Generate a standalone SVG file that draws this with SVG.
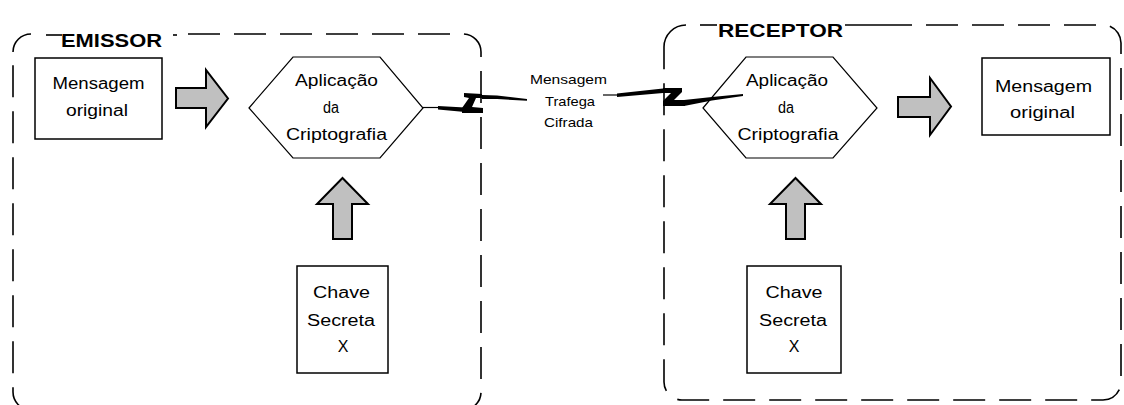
<svg xmlns="http://www.w3.org/2000/svg" width="1124" height="405" viewBox="0 0 1124 405">
  <style>
    .frame { fill: none; stroke: #000; stroke-width: 1.6; stroke-dasharray: 32 14; }
    .solid { fill: none; stroke: #000; stroke-width: 1.6; }
    .box { fill: #fff; stroke: #000; stroke-width: 1.5; }
    .hex { fill: #fff; stroke: #000; stroke-width: 1.2; }
    .block { fill: #c0c0c0; stroke: #000; stroke-width: 2; stroke-linejoin: miter; }
    .bolt { fill: #000; stroke: none; }
    .wire { stroke: #000; stroke-width: 1.2; fill: none; }
    .lbl { font-family: "Liberation Sans", Arial, sans-serif; font-size: 16px; fill: #000; text-anchor: middle; }
    .small { font-family: "Liberation Sans", Arial, sans-serif; font-size: 13px; fill: #000; text-anchor: middle; }
    .title { font-family: "Liberation Sans", Arial, sans-serif; font-size: 19px; font-weight: bold; fill: #000; }
  </style>

  <!-- Sender boundary (bottom edge runs past the canvas) -->
  <g id="emissor">
    <path class="frame" d="M188 34 H463 A18 18 0 0 1 481 52 V392 A18 18 0 0 1 463 410 H31 A18 18 0 0 1 13 392 V52"/>
    <path class="solid" d="M13 52 A18 18 0 0 1 31 34"/>
    <line class="solid" x1="46" y1="35" x2="62" y2="35"/>
    <line class="solid" x1="173" y1="35" x2="177" y2="35"/>
    <text class="title" x="61" y="47" textLength="101" lengthAdjust="spacingAndGlyphs">EMISSOR</text>
  </g>

  <!-- Receiver boundary -->
  <g id="receptor">
    <path class="frame" d="M880 25 H1103 A18 18 0 0 1 1121 43 V382 A18 18 0 0 1 1103 400 H682 A18 18 0 0 1 664 382 V47"/>
    <path class="solid" d="M664 47 A22 22 0 0 1 686 25"/>
    <line class="solid" x1="700" y1="25" x2="717" y2="25"/>
    <line class="solid" x1="845" y1="25" x2="880" y2="25"/>
    <text class="title" x="718" y="37" textLength="125" lengthAdjust="spacingAndGlyphs">RECEPTOR</text>
  </g>

  <!-- Sender nodes -->
  <g id="msg-original-emissor">
    <rect class="box" x="35" y="58" width="127" height="81"/>
    <text class="lbl" x="98.5" y="89" textLength="92" lengthAdjust="spacingAndGlyphs">Mensagem</text>
    <text class="lbl" x="97" y="116" textLength="62" lengthAdjust="spacingAndGlyphs">original</text>
  </g>
  <g id="cripto-emissor">
    <polygon class="hex" points="249,108 293,57 380,57 423,108 380,158 293,158"/>
    <text class="lbl" x="336.5" y="86" textLength="83" lengthAdjust="spacingAndGlyphs">Aplicação</text>
    <text class="lbl" x="331" y="113" textLength="16" lengthAdjust="spacingAndGlyphs">da</text>
    <text class="lbl" x="336.5" y="140" textLength="101" lengthAdjust="spacingAndGlyphs">Criptografia</text>
  </g>
  <g id="chave-emissor">
    <rect class="box" x="297" y="266" width="91" height="107"/>
    <text class="lbl" x="341.5" y="298" textLength="57" lengthAdjust="spacingAndGlyphs">Chave</text>
    <text class="lbl" x="341" y="326" textLength="68" lengthAdjust="spacingAndGlyphs">Secreta</text>
    <text class="lbl" x="343" y="352">X</text>
  </g>

  <!-- Receiver nodes -->
  <g id="cripto-receptor">
    <polygon class="hex" points="703,108 746,57 833,57 877,108 833,158 746,158"/>
    <text class="lbl" x="787" y="86" textLength="82" lengthAdjust="spacingAndGlyphs">Aplicação</text>
    <text class="lbl" x="786" y="113" textLength="16" lengthAdjust="spacingAndGlyphs">da</text>
    <text class="lbl" x="788" y="140" textLength="101" lengthAdjust="spacingAndGlyphs">Criptografia</text>
  </g>
  <g id="msg-original-receptor">
    <rect class="box" x="982" y="58" width="128" height="77"/>
    <text class="lbl" x="1043.5" y="92" textLength="97" lengthAdjust="spacingAndGlyphs">Mensagem</text>
    <text class="lbl" x="1042.5" y="118" textLength="65" lengthAdjust="spacingAndGlyphs">original</text>
  </g>
  <g id="chave-receptor">
    <rect class="box" x="747" y="266" width="94" height="107"/>
    <text class="lbl" x="794" y="298" textLength="57" lengthAdjust="spacingAndGlyphs">Chave</text>
    <text class="lbl" x="793" y="326" textLength="68" lengthAdjust="spacingAndGlyphs">Secreta</text>
    <text class="lbl" x="794" y="352">X</text>
  </g>

  <!-- Channel label -->
  <g id="canal">
    <text class="small" x="568.5" y="84" textLength="77" lengthAdjust="spacingAndGlyphs">Mensagem</text>
    <text class="small" x="570" y="106" textLength="50" lengthAdjust="spacingAndGlyphs">Trafega</text>
    <text class="small" x="568.5" y="127" textLength="49" lengthAdjust="spacingAndGlyphs">Cifrada</text>
  </g>

  <!-- Connectors: block arrows and the lightning link -->
  <g id="connectors">
    <polygon class="block" points="176,88 206,88 206,70 228,98.5 206,127 206,108 176,108"/>
    <polygon class="block" points="333,239 333,204 317,204 342.5,178 368,204 352,204 352,239"/>
    <polygon class="block" points="898,97 930,97 930,78 951,106.5 930,135 930,117 898,117"/>
    <polygon class="block" points="786,239 786,204 770,204 795.5,178 821,204 805,204 805,239"/>

    <!-- left bolt -->
    <line class="wire" x1="423" y1="107.5" x2="440" y2="107.5"/>
    <polygon class="bolt" points="438,106 465,107.5 465,112 438,109.5"/>
    <polygon class="bolt" points="464,93 482,94 482,98 476,98 472,107 483,108 483,113 462,113 462,108 469,98 464,97"/>
    <polygon class="bolt" points="482,95 497,95.5 527,99 527,100.8 497,99 482,99"/>

    <!-- right bolt -->
    <line class="wire" x1="603" y1="95" x2="619" y2="95"/>
    <polygon class="bolt" points="617,93.5 663,88.5 663,93 617,97"/>
    <polygon class="bolt" points="663,88 682,88 682,92 674,100 685,100 685,106 663,106 663,101 671,93 663,93"/>
    <polygon class="bolt" points="684,100 712,97 743,94 743,96 712,100.5 684,106"/>
  </g>
</svg>
